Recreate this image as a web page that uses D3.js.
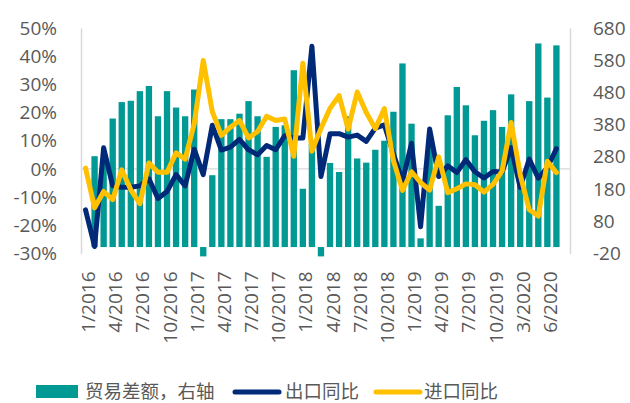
<!DOCTYPE html>
<html><head><meta charset="utf-8">
<script src="https://cdn.jsdelivr.net/npm/d3@7"></script>
<style>body{margin:0;background:#fff}svg{display:block}</style>
</head><body><svg id="c" width="630" height="403"></svg>
<script>
const categories = [
 "1/2016","2/2016","3/2016","4/2016","5/2016","6/2016","7/2016","8/2016","9/2016","10/2016","11/2016","12/2016",
 "1/2017","2/2017","3/2017","4/2017","5/2017","6/2017","7/2017","8/2017","9/2017","10/2017","11/2017","12/2017",
 "1/2018","2/2018","3/2018","4/2018","5/2018","6/2018","7/2018","8/2018","9/2018","10/2018","11/2018","12/2018",
 "1/2019","2/2019","3/2019","4/2019","5/2019","6/2019","7/2019","8/2019","9/2019","10/2019","11/2019","12/2019",
 "3/2020","4/2020","5/2020","6/2020","7/2020","8/2020"];
const tradeBalance = [null,282,265,399,450,454,484,500,406,484,433,406,
 489,-29,223,397,397,414,453,406,280,373,378,549,
 181,320,-29,261,233,406,275,262,302,330,420,570,
 383,27,320,128,409,497,440,347,392,425,373,474,
 199,453,632,464,626,null];
const exportYoY = [-14.5,-27.5,7.5,-6,-6.5,-6.5,-6,-3.5,-10.5,-8,-2,-6,
 7,-2,15.5,6.7,7.7,10.5,6.8,5,8.3,6.8,11.8,11,
 11,43.5,-2.7,12.5,12.5,11.3,12,9.8,14.5,15.6,5.4,-4.4,
 9.1,-20.5,14.2,-2.7,1.1,-1.3,3.3,-1.0,-3.2,-0.9,-1.1,7.6,
 -6.6,3.5,-3.3,0.5,7.2,null];
const importYoY = [0.3,-13.8,-8,-10.9,-0.3,-7.4,-12.3,2.1,-1.2,-1.2,5.7,3.5,
 16,38.5,20.3,11.9,14.8,17.2,11.0,13.3,18.7,17.2,17.7,4.5,
 37.5,6.3,14.4,21.5,26.0,14.1,27.3,20.0,14.3,21.4,3.0,-7.6,
 -1.0,-4.8,-7.5,4.3,-8.4,-7.0,-5.3,-5.6,-8.2,-5.5,-0.8,16.5,
 -2.0,-14.5,-16.7,2.7,-1.3,null];
const leftTicks = [-30,-20,-10,0,10,20,30,40,50];
const rightTicks = [-20,80,180,280,380,480,580,680];
const xTickLabels = categories.filter((d,i)=>i%3===0 && i<52);
const legendLabels = ["贸易差额，右轴","出口同比","进口同比"];

const colors = {bar:"#009994", exp:"#002a78", imp:"#FFC000", text:"#595959", grid:"#d9d9d9"};
const svg = d3.select("#c");
const x = d3.scaleBand().domain(categories).range([81,570]).paddingInner(0.3).paddingOuter(0.15);
const yL = d3.scaleLinear().domain([-30,50]).range([253.5,28]);
const yR = d3.scaleLinear().domain([-20,680]).range([253.5,28]);
const cx = d => x(d) + x.bandwidth()/2;

// zero gridline
svg.append("line").attr("x1",81).attr("x2",570).attr("y1",yL(0)).attr("y2",yL(0))
  .attr("stroke",colors.grid).attr("stroke-width",1.3);

// bars
svg.append("g").selectAll("rect").data(categories.map((c,i)=>({c,v:tradeBalance[i]})).filter(d=>d.v!==null))
  .join("rect")
  .attr("x",d=>x(d.c)).attr("width",x.bandwidth())
  .attr("y",d=>Math.min(yR(d.v),yR(0))).attr("height",d=>Math.abs(yR(d.v)-yR(0)))
  .attr("fill",colors.bar);

// axes
const fontFam = "'Open Sans', 'Liberation Sans', sans-serif";
const ax = svg.append("g").attr("transform","translate(81,0)")
  .call(d3.axisLeft(yL).tickValues(leftTicks).tickFormat(d=>String(d)+"%").tickSize(0).tickSizeOuter(0).tickPadding(24));
const ar = svg.append("g").attr("transform","translate(570,0)")
  .call(d3.axisRight(yR).tickValues(rightTicks).tickFormat(d=>String(d)).tickSize(0).tickSizeOuter(0).tickPadding(23));
[ax,ar].forEach(g=>{
  g.select(".domain").attr("stroke",colors.grid).attr("stroke-width",1.5);
  g.selectAll("text").attr("fill",colors.text).style("font-family",fontFam).style("font-size","19px");
});
const axb = svg.append("g").attr("transform","translate(0,253.5)")
  .call(d3.axisBottom(x).tickValues(xTickLabels).tickSize(0).tickSizeOuter(0));
axb.select(".domain").remove();
axb.selectAll("text").attr("fill",colors.text).style("font-family",fontFam).style("font-size","19px")
  .attr("text-anchor","end").attr("transform","rotate(-90)")
  .attr("x",-18).attr("y",0).attr("dy","0.5em");

// lines
const line = y => d3.line().defined(d=>d.v!==null).x(d=>cx(d.c)).y(d=>y(d.v));
const expData = categories.map((c,i)=>({c,v:exportYoY[i]}));
const impData = categories.map((c,i)=>({c,v:importYoY[i]}));
svg.append("path").datum(expData).attr("d",line(yL)).attr("fill","none")
  .attr("stroke",colors.exp).attr("stroke-width",5).attr("stroke-linejoin","round").attr("stroke-linecap","round");
svg.append("path").datum(impData).attr("d",line(yL)).attr("fill","none")
  .attr("stroke",colors.imp).attr("stroke-width",5).attr("stroke-linejoin","round").attr("stroke-linecap","round");

// legend
const lg = svg.append("g").style("font-family","'Noto Sans CJK SC', sans-serif").style("font-size","18.5px");
lg.append("rect").attr("x",36).attr("y",385).attr("width",42).attr("height",13).attr("fill",colors.bar);
lg.append("text").attr("x",85).attr("y",389.5).attr("dominant-baseline","central").attr("fill",colors.text).text(legendLabels[0]);
lg.append("line").attr("x1",235).attr("x2",279).attr("y1",392).attr("y2",392).attr("stroke",colors.exp).attr("stroke-width",5).attr("stroke-linecap","round");
lg.append("text").attr("x",285).attr("y",389.5).attr("dominant-baseline","central").attr("fill",colors.text).text(legendLabels[1]);
lg.append("line").attr("x1",376).attr("x2",420).attr("y1",392).attr("y2",392).attr("stroke",colors.imp).attr("stroke-width",5).attr("stroke-linecap","round");
lg.append("text").attr("x",424).attr("y",389.5).attr("dominant-baseline","central").attr("fill",colors.text).text(legendLabels[2]);
</script></body></html>
